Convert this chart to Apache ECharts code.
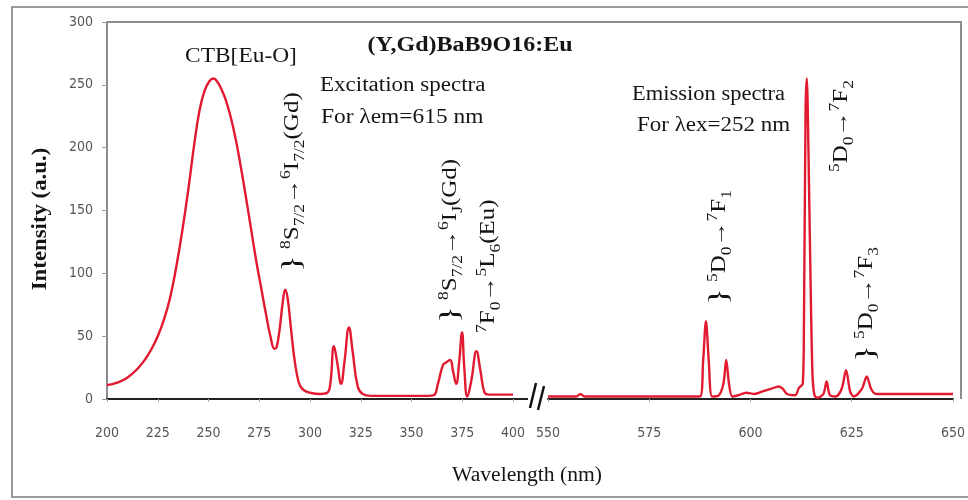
<!DOCTYPE html>
<html><head><meta charset="utf-8">
<script src="https://cdn.jsdelivr.net/npm/echarts@6/dist/echarts.min.js"></script>
<style>html,body{margin:0;padding:0;background:#fff}#c{width:968px;height:500px}</style>
</head><body><div id="c"></div>
<script>
// ---- data ----
const excitationNm = [200,205,210,215,219,222,225,228,231,234,237,240,243,245.5,248,250.5,252.5,254.5,256.5,258.5,261,263.5,266,268.5,271,273.5,276,278.5,280.5,282.5,283.5,285,286.5,287.8,289,290.5,292,293.5,295,297,300,305,308.5,310,311.8,313.5,315.3,317,319.2,321,323.5,326,330,340,350,358,361,363,365.5,367,369,370.5,372,373.5,374.9,376,377.5,379.5,382,384,386,388,395,400];
const excitationIntensity = [11,13,17,24,32,40,50,63,80,104,133,166,203,229,245,253,255,252,246,238,224,206,184,160,135,110,88,66,50,40,41,55,76,87,80,58,36,20,11,7,5,4,5,12,42,28,12,30,57,38,10,4,2.5,2.5,2.5,2.5,3,12,27,29,31,22,12,30,53,25,2,15,38,22,5,3.5,3.5,3.5];
const emissionNm = [550,557,558,559,570,580,587.5,588.3,589,589.7,590.5,592,593.3,594,594.7,595.5,597,599,601,603,605,607,608,609,611,612,612.9,613.2,613.6,613.9,614.3,614.8,615.3,615.8,616.5,618,618.8,619.6,621,622.5,623.6,624.6,625.5,627.5,628.7,629.8,631,640,650];
const emissionIntensity = [2,2,4,2,2,2,2,30,62,30,2,2.5,12,31,12,2,3,5,4,6,8,10,8,4,3,9,12,60,230,255,200,100,20,3,1,4,14,3,2,8,23,6,2,8,18,8,4,4,4];
const yTicks = [0,50,100,150,200,250,300];
const excitationTicks = [200,225,250,275,300,325,350,375,400];
const emissionTicks = [550,575,600,625,650];

const pairs = (xs, ys) => xs.map((x, i) => [x, ys[i]]);
const serif = '"Liberation Serif","Times New Roman",serif';
const narrow = '"Liberation Sans Narrow","DejaVu Sans Condensed","Liberation Sans",sans-serif';
const lineColor = '#e21a30';

const xAxisCommon = {
  type: 'value',
  axisLine: {show: true, onZero: false, lineStyle: {color: '#222', width: 2}},
  axisTick: {show: true, length: 3, lineStyle: {color: '#aaa'}},
  axisLabel: {margin: 27, color: '#555', fontFamily: narrow, fontSize: 14, showMinLabel: true, showMaxLabel: true},
  splitLine: {show: false}
};

const rich = {
  n: {fontFamily: serif, fontSize: 20, fill: '#151515', color: '#151515'},
  sp: {fontFamily: serif, fontSize: 14, fill: '#151515', color: '#151515', verticalAlign: 'top'},
  sb: {fontFamily: serif, fontSize: 14, fill: '#151515', color: '#151515', verticalAlign: 'bottom'}
};
function rotLabel(x, y, text, sx) {
  return {
    type: 'text', x: x, y: y, rotation: Math.PI / 2, scaleX: sx, silent: true, z: 10,
    style: {text: text, rich: rich, fontFamily: serif, fontSize: 28, lineHeight: 28, fill: '#151515',
      align: 'left', verticalAlign: 'middle', textAlign: 'left', textVerticalAlign: 'middle'}
  };
}
function hText(x, y, text, size, weight, align, sx) {
  return {
    type: 'text', x: x, y: y, scaleX: sx, silent: true, z: 10,
    style: {text: text, fontFamily: serif, fontSize: size, fontWeight: weight, fill: '#151515',
      align: align, verticalAlign: 'middle', textAlign: align, textVerticalAlign: 'middle'}
  };
}

const chart = echarts.init(document.getElementById('c'));
chart.setOption({
  backgroundColor: '#ffffff',
  animation: false,
  grid: [
    {left: 107, right: 455, top: 22, bottom: 101},
    {left: 548, right: 7, top: 22, bottom: 101}
  ],
  xAxis: [
    Object.assign({}, xAxisCommon, {gridIndex: 0, min: excitationTicks[0], max: excitationTicks[excitationTicks.length - 1], interval: excitationTicks[1] - excitationTicks[0]}),
    Object.assign({}, xAxisCommon, {gridIndex: 1, min: emissionTicks[0], max: emissionTicks[emissionTicks.length - 1], interval: emissionTicks[1] - emissionTicks[0]})
  ],
  yAxis: [
    {type: 'value', gridIndex: 0, min: yTicks[0], max: yTicks[yTicks.length - 1], interval: yTicks[1] - yTicks[0],
      axisLine: {show: true, lineStyle: {color: '#8c8c8c', width: 2}},
      axisTick: {show: true, length: 5, lineStyle: {color: '#999'}},
      axisLabel: {margin: 14, color: '#555', fontFamily: narrow, fontSize: 14},
      splitLine: {show: false}},
    {type: 'value', gridIndex: 1, min: yTicks[0], max: yTicks[yTicks.length - 1], interval: yTicks[1] - yTicks[0],
      show: false, splitLine: {show: false}}
  ],
  series: [
    {type: 'line', xAxisIndex: 0, yAxisIndex: 0, data: pairs(excitationNm, excitationIntensity),
      showSymbol: false, smooth: 0.45, z: 5,
      lineStyle: {color: lineColor, width: 2.4}},
    {type: 'line', xAxisIndex: 1, yAxisIndex: 1, data: pairs(emissionNm, emissionIntensity),
      showSymbol: false, smooth: 0.3, z: 5,
      lineStyle: {color: lineColor, width: 2.4}}
  ],
  graphic: [
    {type: 'rect', silent: true, shape: {x: 12, y: 7, width: 975, height: 490},
      style: {fill: 'none', stroke: '#9a9a9a', lineWidth: 2}},
    {type: 'polyline', silent: true, shape: {points: [[107, 22], [961, 22], [961, 399]]},
      style: {fill: 'none', stroke: '#8c8c8c', lineWidth: 2}},
    {type: 'line', silent: true, shape: {x1: 513, y1: 399, x2: 528, y2: 399}, style: {stroke: '#222', lineWidth: 2}},
    {type: 'line', silent: true, z: 20, shape: {x1: 530, y1: 408, x2: 536, y2: 383}, style: {stroke: '#111', lineWidth: 2.5}},
    {type: 'line', silent: true, z: 20, shape: {x1: 538, y1: 410, x2: 544, y2: 386}, style: {stroke: '#111', lineWidth: 2.5}},
    hText(241, 57, 'CTB[Eu-O]', 20, 'normal', 'center', 1.17),
    hText(470, 46, '(Y,Gd)BaB9O16:Eu', 20, 'bold', 'center', 1.2),
    hText(320, 86, 'Excitation spectra', 20, 'normal', 'left', 1.15),
    hText(321, 118, 'For \u03bbem=615 nm', 20, 'normal', 'left', 1.17),
    hText(632, 95, 'Emission spectra', 20, 'normal', 'left', 1.125),
    hText(637, 126, 'For \u03bbex=252 nm', 20, 'normal', 'left', 1.15),
    hText(527, 476, 'Wavelength (nm)', 20, 'normal', 'center', 1.08),
    {type: 'text', x: 41, y: 219, rotation: Math.PI / 2, scaleX: 1.14, silent: true,
      style: {text: 'Intensity (a.u.)', fontFamily: serif, fontSize: 20, fontWeight: 'bold', fill: '#151515',
        align: 'center', verticalAlign: 'middle', textAlign: 'center', textVerticalAlign: 'middle'}},
    rotLabel(293, 272, '}{n| }{sp|8}{n|S}{sb|7/2}{n|\u2192}{sp|6}{n|I}{sb|7/2}{n|(Gd)}', 1.25),
    rotLabel(451, 323, '}{n| }{sp|8}{n|S}{sb|7/2}{n|\u2192}{sp|6}{n|I}{sb|J}{n|(Gd)}', 1.25),
    rotLabel(489, 333, '{sp|7}{n|F}{sb|0}{n|\u2192}{sp|5}{n|L}{sb|6}{n|(Eu)}', 1.25),
    rotLabel(720, 305, '}{n| }{sp|5}{n|D}{sb|0}{n|\u2192}{sp|7}{n|F}{sb|1}', 1.25),
    rotLabel(842, 172, '{sp|5}{n|D}{sb|0}{n|\u2192}{sp|7}{n|F}{sb|2}', 1.25),
    rotLabel(867, 362, '}{n| }{sp|5}{n|D}{sb|0}{n|\u2192}{sp|7}{n|F}{sb|3}', 1.25)
  ]
});
</script></body></html>
